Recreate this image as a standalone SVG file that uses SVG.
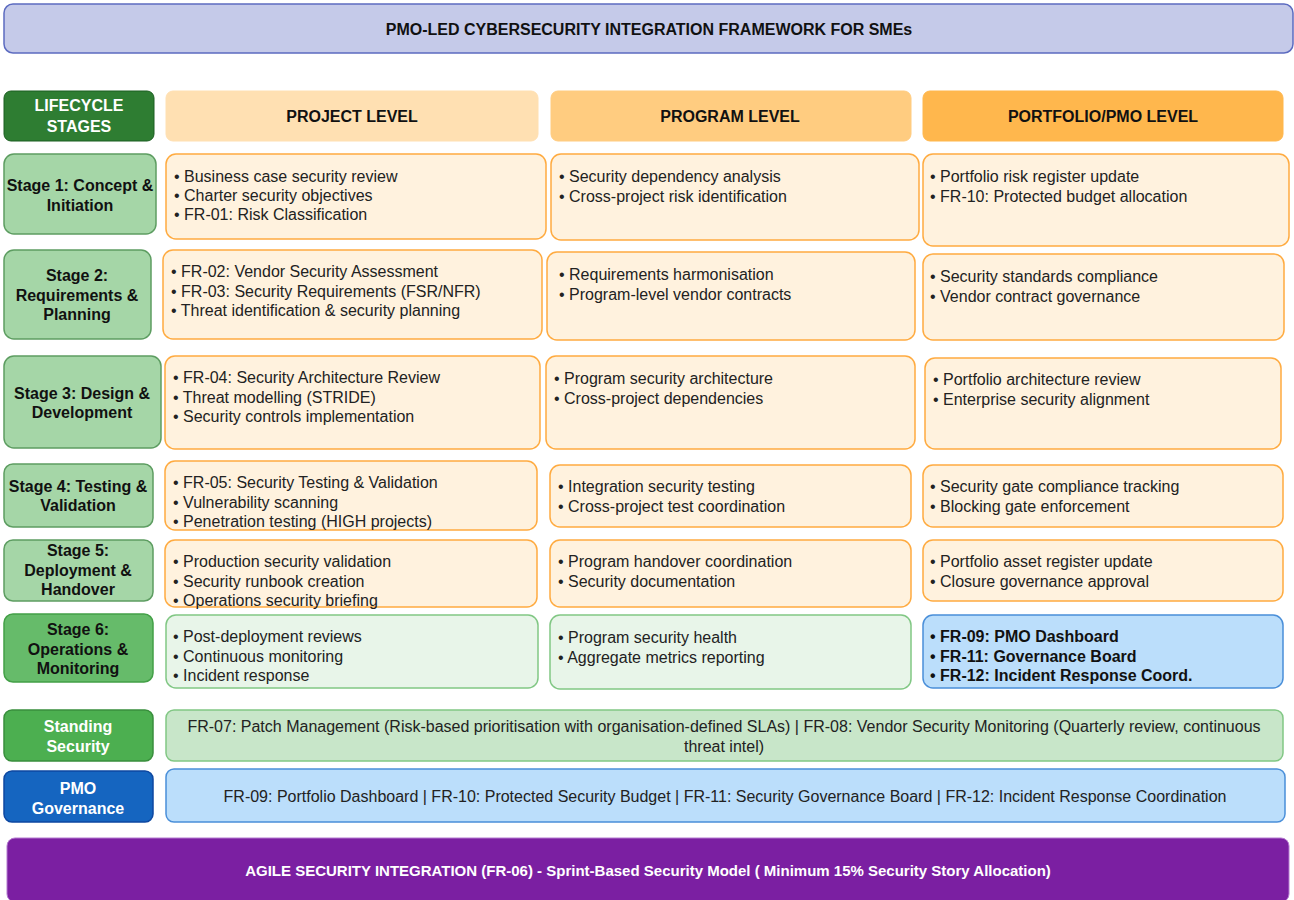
<svg xmlns="http://www.w3.org/2000/svg" width="1294" height="900" viewBox="0 0 1294 900">
  <style>
    text { font-family: "Liberation Sans", Arial, Helvetica, sans-serif; }
    .title-box { fill: #c5cae9; stroke: #5c6bc0; stroke-width: 1.5; }
    .life-hdr { fill: #2e7d32; stroke: #1b5e20; stroke-width: 1; }
    .hdr-proj { fill: #ffe0b2; stroke: #ffe0b2; }
    .hdr-prog { fill: #ffcc80; stroke: #ffcc80; }
    .hdr-port { fill: #ffb74d; stroke: #ffb74d; }
    .stage { fill: #a5d6a7; stroke: #5d9d61; stroke-width: 1.5; }
    .stage6 { fill: #66bb6a; stroke: #43a047; stroke-width: 1.5; }
    .cell { fill: #fff2de; stroke: #ffab40; stroke-width: 1.5; }
    .cell-green { fill: #e8f5e9; stroke: #81c784; stroke-width: 1.5; }
    .cell-blue { fill: #bbdefb; stroke: #4a8fd9; stroke-width: 1.5; }
    .stand-lbl { fill: #4caf50; stroke: #388e3c; stroke-width: 1.5; }
    .stand-box { fill: #c8e6c9; stroke: #81c784; stroke-width: 1.5; }
    .gov-lbl { fill: #1565c0; stroke: #0d47a1; stroke-width: 1.5; }
    .gov-box { fill: #bbdefb; stroke: #4a8fd9; stroke-width: 1.5; }
    .agile { fill: #7b1fa2; stroke: #b57bd0; stroke-width: 1; }
    .hd { font-size: 16px; font-weight: bold; fill: #111; text-anchor: middle; }
    .hdw { font-size: 16px; font-weight: bold; fill: #ffffff; text-anchor: middle; }
    .lbl { font-size: 16px; font-weight: bold; fill: #111; text-anchor: middle; }
    .item { font-size: 16px; fill: #222; }
    .item-b { font-size: 16px; font-weight: bold; fill: #111; }
    .band { font-size: 16px; fill: #222; text-anchor: middle; }
    .agile-t { font-size: 15px; font-weight: bold; fill: #ffffff; text-anchor: middle; }
  </style>

  <!-- Title -->
  <g id="title">
    <rect class="title-box" x="4" y="4" width="1289" height="49" rx="9"/>
    <text class="hd" x="649" y="35">PMO-LED CYBERSECURITY INTEGRATION FRAMEWORK FOR SMEs</text>
  </g>

  <!-- Column headers -->
  <g id="hdr-lifecycle">
    <rect class="life-hdr" x="4" y="91" width="150" height="50" rx="7"/>
    <text class="hdw" x="79" y="111">LIFECYCLE</text>
    <text class="hdw" x="79" y="132">STAGES</text>
  </g>
  <g id="hdr-project">
    <rect class="hdr-proj" x="166" y="91" width="372" height="50" rx="7"/>
    <text class="hd" x="352" y="122">PROJECT LEVEL</text>
  </g>
  <g id="hdr-program">
    <rect class="hdr-prog" x="551" y="91" width="360" height="50" rx="7"/>
    <text class="hd" x="730" y="122">PROGRAM LEVEL</text>
  </g>
  <g id="hdr-portfolio">
    <rect class="hdr-port" x="923" y="91" width="360" height="50" rx="7"/>
    <text class="hd" x="1103" y="122">PORTFOLIO/PMO LEVEL</text>
  </g>

  <!-- Stage 1 -->
  <g id="stage1">
    <rect class="stage" x="4" y="154" width="152" height="80" rx="10"/>
    <text class="lbl" x="80" y="191">Stage 1: Concept &amp;</text>
    <text class="lbl" x="80" y="211">Initiation</text>
  </g>
  <g id="s1-project">
    <rect class="cell" x="166" y="154" width="380" height="85" rx="10"/>
    <text class="item" x="174" y="182">• Business case security review</text>
    <text class="item" x="174" y="201">• Charter security objectives</text>
    <text class="item" x="174" y="220">• FR-01: Risk Classification</text>
  </g>
  <g id="s1-program">
    <rect class="cell" x="551" y="154" width="368" height="86" rx="10"/>
    <text class="item" x="559" y="182">• Security dependency analysis</text>
    <text class="item" x="559" y="202">• Cross-project risk identification</text>
  </g>
  <g id="s1-portfolio">
    <rect class="cell" x="923" y="154" width="366" height="92" rx="10"/>
    <text class="item" x="930" y="182">• Portfolio risk register update</text>
    <text class="item" x="930" y="202">• FR-10: Protected budget allocation</text>
  </g>

  <!-- Stage 2 -->
  <g id="stage2">
    <rect class="stage" x="4" y="250" width="147" height="89" rx="10"/>
    <text class="lbl" x="77" y="281">Stage 2:</text>
    <text class="lbl" x="77" y="301">Requirements &amp;</text>
    <text class="lbl" x="77" y="320">Planning</text>
  </g>
  <g id="s2-project">
    <rect class="cell" x="163" y="250" width="379" height="89" rx="10"/>
    <text class="item" x="171" y="277">• FR-02: Vendor Security Assessment</text>
    <text class="item" x="171" y="297">• FR-03: Security Requirements (FSR/NFR)</text>
    <text class="item" x="171" y="316">• Threat identification &amp; security planning</text>
  </g>
  <g id="s2-program">
    <rect class="cell" x="547" y="252" width="368" height="88" rx="10"/>
    <text class="item" x="559" y="280">• Requirements harmonisation</text>
    <text class="item" x="559" y="300">• Program-level vendor contracts</text>
  </g>
  <g id="s2-portfolio">
    <rect class="cell" x="923" y="254" width="361" height="86" rx="10"/>
    <text class="item" x="930" y="282">• Security standards compliance</text>
    <text class="item" x="930" y="302">• Vendor contract governance</text>
  </g>

  <!-- Stage 3 -->
  <g id="stage3">
    <rect class="stage" x="4" y="356" width="157" height="92" rx="10"/>
    <text class="lbl" x="82" y="399">Stage 3: Design &amp;</text>
    <text class="lbl" x="82" y="418">Development</text>
  </g>
  <g id="s3-project">
    <rect class="cell" x="165" y="356" width="375" height="93" rx="10"/>
    <text class="item" x="173" y="383">• FR-04: Security Architecture Review</text>
    <text class="item" x="173" y="403">• Threat modelling (STRIDE)</text>
    <text class="item" x="173" y="422">• Security controls implementation</text>
  </g>
  <g id="s3-program">
    <rect class="cell" x="546" y="356" width="369" height="93" rx="10"/>
    <text class="item" x="554" y="384">• Program security architecture</text>
    <text class="item" x="554" y="404">• Cross-project dependencies</text>
  </g>
  <g id="s3-portfolio">
    <rect class="cell" x="925" y="358" width="356" height="91" rx="10"/>
    <text class="item" x="933" y="385">• Portfolio architecture review</text>
    <text class="item" x="933" y="405">• Enterprise security alignment</text>
  </g>

  <!-- Stage 4 -->
  <g id="stage4">
    <rect class="stage" x="4" y="464" width="149" height="63" rx="9"/>
    <text class="lbl" x="78" y="492">Stage 4: Testing &amp;</text>
    <text class="lbl" x="78" y="511">Validation</text>
  </g>
  <g id="s4-project">
    <rect class="cell" x="165" y="461" width="372" height="69" rx="10"/>
    <text class="item" x="173" y="488">• FR-05: Security Testing &amp; Validation</text>
    <text class="item" x="173" y="508">• Vulnerability scanning</text>
    <text class="item" x="173" y="527">• Penetration testing (HIGH projects)</text>
  </g>
  <g id="s4-program">
    <rect class="cell" x="550" y="465" width="361" height="62" rx="10"/>
    <text class="item" x="558" y="492">• Integration security testing</text>
    <text class="item" x="558" y="512">• Cross-project test coordination</text>
  </g>
  <g id="s4-portfolio">
    <rect class="cell" x="923" y="465" width="360" height="62" rx="10"/>
    <text class="item" x="930" y="492">• Security gate compliance tracking</text>
    <text class="item" x="930" y="512">• Blocking gate enforcement</text>
  </g>

  <!-- Stage 5 -->
  <g id="stage5">
    <rect class="stage" x="4" y="540" width="149" height="61" rx="9"/>
    <text class="lbl" x="78" y="556">Stage 5:</text>
    <text class="lbl" x="78" y="576">Deployment &amp;</text>
    <text class="lbl" x="78" y="595">Handover</text>
  </g>
  <g id="s5-project">
    <rect class="cell" x="165" y="540" width="372" height="67" rx="10"/>
    <text class="item" x="173" y="567">• Production security validation</text>
    <text class="item" x="173" y="587">• Security runbook creation</text>
    <text class="item" x="173" y="606">• Operations security briefing</text>
  </g>
  <g id="s5-program">
    <rect class="cell" x="550" y="540" width="361" height="67" rx="10"/>
    <text class="item" x="558" y="567">• Program handover coordination</text>
    <text class="item" x="558" y="587">• Security documentation</text>
  </g>
  <g id="s5-portfolio">
    <rect class="cell" x="923" y="540" width="360" height="61" rx="10"/>
    <text class="item" x="930" y="567">• Portfolio asset register update</text>
    <text class="item" x="930" y="587">• Closure governance approval</text>
  </g>

  <!-- Stage 6 -->
  <g id="stage6">
    <rect class="stage6" x="4" y="614" width="149" height="68" rx="9"/>
    <text class="lbl" x="78" y="635">Stage 6:</text>
    <text class="lbl" x="78" y="655">Operations &amp;</text>
    <text class="lbl" x="78" y="674">Monitoring</text>
  </g>
  <g id="s6-project">
    <rect class="cell-green" x="166" y="615" width="372" height="73" rx="10"/>
    <text class="item" x="173" y="642">• Post-deployment reviews</text>
    <text class="item" x="173" y="662">• Continuous monitoring</text>
    <text class="item" x="173" y="681">• Incident response</text>
  </g>
  <g id="s6-program">
    <rect class="cell-green" x="550" y="615" width="361" height="74" rx="10"/>
    <text class="item" x="558" y="643">• Program security health</text>
    <text class="item" x="558" y="663">• Aggregate metrics reporting</text>
  </g>
  <g id="s6-portfolio">
    <rect class="cell-blue" x="923" y="615" width="360" height="73" rx="10"/>
    <text class="item-b" x="930" y="642">• FR-09: PMO Dashboard</text>
    <text class="item-b" x="930" y="662">• FR-11: Governance Board</text>
    <text class="item-b" x="930" y="681">• FR-12: Incident Response Coord.</text>
  </g>

  <!-- Standing security band -->
  <g id="standing-label">
    <rect class="stand-lbl" x="4" y="710" width="149" height="51" rx="8"/>
    <text class="hdw" x="78" y="732">Standing</text>
    <text class="hdw" x="78" y="752">Security</text>
  </g>
  <g id="standing-body">
    <rect class="stand-box" x="166" y="710" width="1117" height="51" rx="8"/>
    <text class="band" x="724" y="732">FR-07: Patch Management (Risk-based prioritisation with organisation-defined SLAs) | FR-08: Vendor Security Monitoring (Quarterly review, continuous</text>
    <text class="band" x="724" y="752">threat intel)</text>
  </g>

  <!-- PMO governance band -->
  <g id="governance-label">
    <rect class="gov-lbl" x="4" y="771" width="149" height="51" rx="8"/>
    <text class="hdw" x="78" y="794">PMO</text>
    <text class="hdw" x="78" y="814">Governance</text>
  </g>
  <g id="governance-body">
    <rect class="gov-box" x="166" y="769" width="1119" height="53" rx="8"/>
    <text class="band" x="725" y="802">FR-09: Portfolio Dashboard | FR-10: Protected Security Budget | FR-11: Security Governance Board | FR-12: Incident Response Coordination</text>
  </g>

  <!-- Agile footer -->
  <g id="agile">
    <rect class="agile" x="7" y="838" width="1282" height="64" rx="8"/>
    <text class="agile-t" x="648" y="876">AGILE SECURITY INTEGRATION (FR-06) - Sprint-Based Security Model ( Minimum 15% Security Story Allocation)</text>
  </g>
</svg>
